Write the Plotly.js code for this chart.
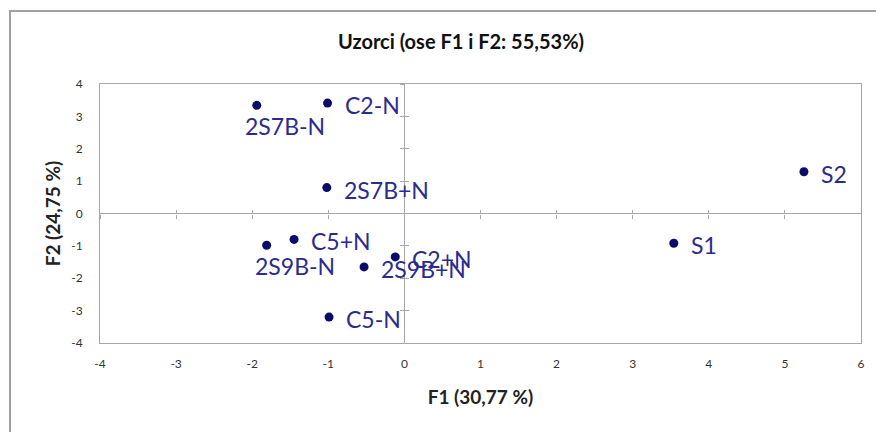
<!DOCTYPE html>
<html>
<head>
<meta charset="utf-8">
<script src="https://cdn.plot.ly/plotly-3.0.1.min.js"></script>
<style>
  html, body { margin: 0; padding: 0; background: #fff; }
  #chart { width: 876px; height: 432px; }
</style>
</head>
<body>
<div id="chart"></div>
<script>
// ---- data ----
const labels = ["2S7B-N", "C2-N", "2S7B+N", "C5+N", "2S9B-N", "C2+N", "2S9B+N", "C5-N", "S1", "S2"];
const f1 = [-1.94, -1.01, -1.02, -1.45, -1.81, -0.12, -0.53, -0.99, 3.54, 5.25];
const f2 = [3.34, 3.41, 0.80, -0.80, -0.98, -1.34, -1.65, -3.20, -0.92, 1.29];
const labelPlacement = ["below", "right", "right", "right", "below", "right", "right", "right", "right", "right"];
const xTicks = [-4, -3, -2, -1, 0, 1, 2, 3, 4, 5, 6];
const yTicks = [-4, -3, -2, -1, 0, 1, 2, 3, 4];

const titleText = "Uzorci (ose F1 i F2: 55,53%)";
const xTitle = "F1 (30,77 %)";
const yTitle = "F2 (24,75 %)";

// ---- styles ----
const FONT = "Lato, 'Open Sans', sans-serif";
const markerColor = "#0b0b6b";
const labelColor = "#2b2b8e";
const lineColor = "#a6a6a6";
const placementShift = {
  right: { xanchor: "left", yanchor: "middle", xshift: 15, yshift: -2 },
  below: { xanchor: "left", yanchor: "middle", xshift: -14, yshift: -21 }
};

const trace = {
  x: f1, y: f2, text: labels,
  type: "scatter", mode: "markers",
  marker: { color: markerColor, size: 9 },
  hoverinfo: "text",
  showlegend: false
};
// invisible traces so overlay tick axes render
const tickTraceX = { x: [xTicks[0], xTicks[xTicks.length - 1]], y: [yTicks[0], yTicks[yTicks.length - 1]], xaxis: "x2", yaxis: "y", mode: "markers", marker: { opacity: 0 }, hoverinfo: "skip", showlegend: false };
const tickTraceX3 = Object.assign({}, tickTraceX, { xaxis: "x3", yaxis: "y" });
const tickTraceY = Object.assign({}, tickTraceX, { xaxis: "x", yaxis: "y2" });
const tickTraceY3 = Object.assign({}, tickTraceX, { xaxis: "x", yaxis: "y3" });

const annotations = labels.map((t, i) => Object.assign({
  x: f1[i], y: f2[i], xref: "x", yref: "y", text: t, showarrow: false,
  font: { family: FONT, size: 23, color: labelColor }
}, placementShift[labelPlacement[i]]));

const xRange = [xTicks[0], xTicks[xTicks.length - 1]];
const yRange = [yTicks[0], yTicks[yTicks.length - 1]];
const x0frac = (0 - xRange[0]) / (xRange[1] - xRange[0]);
const y0frac = (0 - yRange[0]) / (yRange[1] - yRange[0]);

const tickAxisX = (dir) => ({
  overlaying: "x", anchor: "free", position: y0frac, range: xRange, tickvals: xTicks,
  ticks: dir, ticklen: 4, tickcolor: lineColor, tickwidth: 1,
  showticklabels: false, showline: false, showgrid: false, zeroline: false, fixedrange: true
});
const tickAxisY = (dir) => ({
  overlaying: "y", anchor: "free", position: x0frac, range: yRange, tickvals: yTicks,
  ticks: dir, ticklen: 4, tickcolor: lineColor, tickwidth: 1,
  showticklabels: false, showline: false, showgrid: false, zeroline: false, fixedrange: true
});

const layout = {
  width: 876, height: 432,
  margin: { l: 100, r: 15, t: 84, b: 89 },
  paper_bgcolor: "#ffffff", plot_bgcolor: "#ffffff",
  font: { family: FONT, color: "#333333" },
  title: {
    text: "<b>" + titleText + "</b>", xref: "container", x: 461 / 876, xanchor: "center",
    yref: "container", y: 1 - 42 / 432, yanchor: "middle",
    font: { family: FONT, size: 20, color: "#111111" }
  },
  xaxis: {
    range: xRange, tickvals: xTicks, ticktext: xTicks.map(String),
    showline: true, mirror: true, linecolor: lineColor, linewidth: 1,
    zeroline: true, zerolinecolor: lineColor, zerolinewidth: 1,
    showgrid: false, ticks: "", ticklabelstandoff: 10,
    tickfont: { family: FONT, size: 12, color: "#333333" },
    title: { text: "<b>" + xTitle + "</b>", font: { family: FONT, size: 19, color: "#222222" }, standoff: 20 },
    fixedrange: true
  },
  yaxis: {
    range: yRange, tickvals: yTicks, ticktext: yTicks.map(String),
    showline: true, mirror: true, linecolor: lineColor, linewidth: 1,
    zeroline: true, zerolinecolor: lineColor, zerolinewidth: 1,
    showgrid: false, ticks: "", ticklabelstandoff: 14,
    tickfont: { family: FONT, size: 12, color: "#333333" },
    title: { text: "<b>" + yTitle + "</b>", font: { family: FONT, size: 19, color: "#222222" }, standoff: 5 },
    fixedrange: true
  },
  xaxis2: tickAxisX("outside"),
  xaxis3: tickAxisX("inside"),
  yaxis2: tickAxisY("outside"),
  yaxis3: tickAxisY("inside"),
  annotations: annotations,
  shapes: [{
    type: "rect", xref: "paper", yref: "paper",
    x0: (10 - 100) / 761, x1: (900 - 100) / 761,
    y0: (343 - 460) / 259, y1: (343 - 11) / 259,
    line: { color: "#a0a0a0", width: 2 }, fillcolor: "rgba(0,0,0,0)", layer: "below"
  }]
};

Plotly.newPlot("chart", [tickTraceX, tickTraceX3, tickTraceY, tickTraceY3, trace], layout, { displayModeBar: false, staticPlot: true });
</script>
</body>
</html>
